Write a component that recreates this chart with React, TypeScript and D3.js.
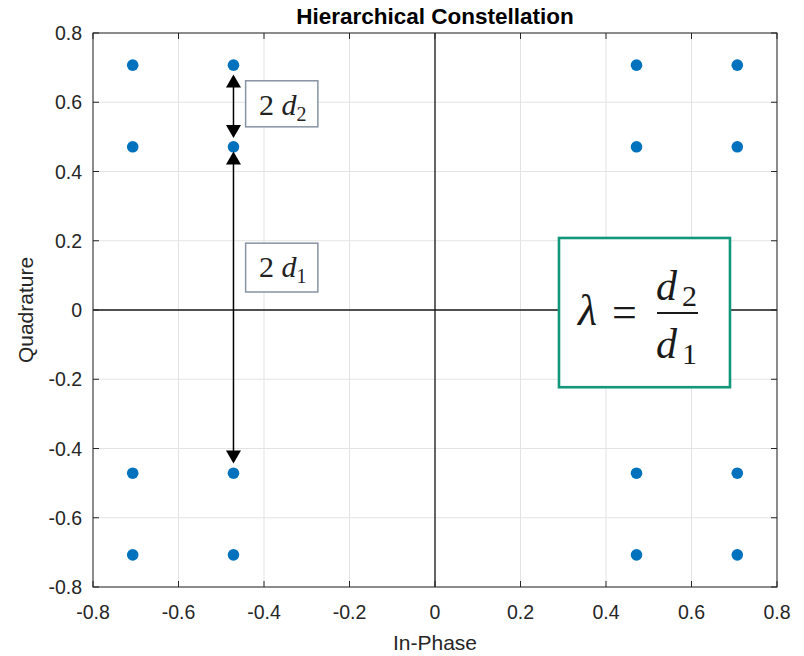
import React from "react";
import * as d3 from "d3";

const pointsI = [-0.7071, -0.7071, -0.7071, -0.7071, -0.4714, -0.4714, -0.4714, -0.4714, 0.4714, 0.4714, 0.4714, 0.4714, 0.7071, 0.7071, 0.7071, 0.7071];
const pointsQ = [-0.7071, -0.4714, 0.4714, 0.7071, -0.7071, -0.4714, 0.4714, 0.7071, -0.7071, -0.4714, 0.4714, 0.7071, -0.7071, -0.4714, 0.4714, 0.7071];
const tickValues = [-0.8, -0.6, -0.4, -0.2, 0, 0.2, 0.4, 0.6, 0.8];
const tickLabels = ["-0.8", "-0.6", "-0.4", "-0.2", "0", "0.2", "0.4", "0.6", "0.8"];
const arrowX = [-0.4714, -0.4714];
const arrowFrom = [0.68, 0.458];
const arrowTo = [0.497, -0.443];

const W = 804, H = 656;
const L = 93, R = 777, T = 33, B = 587;

export default function App() {
  const x = d3.scaleLinear().domain([-0.8, 0.8]).range([L, R]);
  const y = d3.scaleLinear().domain([-0.8, 0.8]).range([B, T]);
  const axisCol = "#262626";
  const sans = "'Liberation Sans', Arial, Helvetica, sans-serif";
  const serif = "'Liberation Serif', 'Times New Roman', serif";
  const tk = 6;

  const arrowHead = (tx: number, ty: number, dir: number) => {
    const len = 13, hw = 7.5;
    return `M${tx},${ty} L${tx - hw},${ty - dir * len} L${tx + hw},${ty - dir * len} Z`;
  };

  return (
    <svg width={W} height={H} style={{ position: "absolute", left: 0, top: 0, background: "#fff" }}>
      <rect x={0} y={0} width={W} height={H} fill="#fff" />
      {tickValues.map((v, i) => (
        <g key={"g" + i}>
          <line x1={x(v)} x2={x(v)} y1={T} y2={B} stroke="#e3e3e3" strokeWidth={1} />
          <line x1={L} x2={R} y1={y(v)} y2={y(v)} stroke="#e3e3e3" strokeWidth={1} />
        </g>
      ))}
      <line x1={x(0)} x2={x(0)} y1={T} y2={B} stroke="#1a1a1a" strokeWidth={1.3} />
      <line x1={L} x2={R} y1={y(0)} y2={y(0)} stroke="#1a1a1a" strokeWidth={1.3} />
      <rect x={L} y={T} width={R - L} height={B - T} fill="none" stroke={axisCol} strokeWidth={1} />
      {tickValues.map((v, i) => (
        <g key={"t" + i} stroke={axisCol} strokeWidth={1}>
          <line x1={x(v)} x2={x(v)} y1={B} y2={B - tk} />
          <line x1={x(v)} x2={x(v)} y1={T} y2={T + tk} />
          <line x1={L} x2={L + tk} y1={y(v)} y2={y(v)} />
          <line x1={R} x2={R - tk} y1={y(v)} y2={y(v)} />
        </g>
      ))}
      {tickValues.map((v, i) => (
        <g key={"l" + i} fill={axisCol} fontFamily={sans} fontSize={19.5}>
          <text x={x(v)} y={619} textAnchor="middle">{tickLabels[i]}</text>
          <text x={82} y={y(v)} textAnchor="end" dominantBaseline="central">{tickLabels[i]}</text>
        </g>
      ))}
      <text x={(L + R) / 2} y={24} textAnchor="middle" fontFamily={sans} fontWeight="bold" fontSize={22.5} fill="#000">Hierarchical Constellation</text>
      <text x={(L + R) / 2} y={650} textAnchor="middle" fontFamily={sans} fontSize={21} fill={axisCol}>In-Phase</text>
      <text transform={`translate(33,${(T + B) / 2}) rotate(-90)`} textAnchor="middle" fontFamily={sans} fontSize={21} fill={axisCol}>Quadrature</text>

      {pointsI.map((v, i) => (
        <circle key={"p" + i} cx={x(v)} cy={y(pointsQ[i])} r={5.8} fill="#0072BD" />
      ))}

      {arrowX.map((ax, i) => {
        const px = x(ax), y1 = y(arrowFrom[i]), y2 = y(arrowTo[i]);
        return (
          <g key={"a" + i}>
            <line x1={px} x2={px} y1={y1 + 10} y2={y2 - 10} stroke="#000" strokeWidth={1.5} />
            <path d={arrowHead(px, y1, -1)} fill="#000" />
            <path d={arrowHead(px, y2, 1)} fill="#000" />
          </g>
        );
      })}

      <g>
        <rect x={x(-0.443)} y={y(0.662)} width={x(-0.274) - x(-0.443)} height={y(0.529) - y(0.662)} fill="#fff" stroke="#8893a3" strokeWidth={1.5} />
        <text x={259} y={115} fontFamily={serif} fontSize={30} fill="#222">
          2 <tspan fontStyle="italic">d</tspan><tspan fontSize={20} dy={6}>2</tspan>
        </text>
        <rect x={x(-0.443)} y={y(0.193)} width={x(-0.274) - x(-0.443)} height={y(0.052) - y(0.193)} fill="#fff" stroke="#8893a3" strokeWidth={1.5} />
        <text x={259} y={277} fontFamily={serif} fontSize={30} fill="#222">
          2 <tspan fontStyle="italic">d</tspan><tspan fontSize={20} dy={6}>1</tspan>
        </text>
      </g>
      <g>
        <rect x={x(0.29)} y={y(0.208)} width={x(0.69) - x(0.29)} height={y(-0.223) - y(0.208)} fill="#fff" stroke="#12977a" strokeWidth={2.6} />
        <text x={578} y={325} fontFamily={serif} fontSize={44} fontStyle="italic" fill="#1a1a1a">λ</text>
        <text x={612} y={327} fontFamily={serif} fontSize={44} fill="#1a1a1a">=</text>
        <line x1={657} x2={698} y1={313} y2={313} stroke="#1a1a1a" strokeWidth={2.2} />
        <text x={656} y={300} fontFamily={serif} fontSize={42} fontStyle="italic" fill="#1a1a1a">d</text>
        <text x={682} y={306} fontFamily={serif} fontSize={30} fill="#1a1a1a">2</text>
        <text x={656} y={358} fontFamily={serif} fontSize={42} fontStyle="italic" fill="#1a1a1a">d</text>
        <text x={682} y={364} fontFamily={serif} fontSize={30} fill="#1a1a1a">1</text>
      </g>
    </svg>
  );
}
